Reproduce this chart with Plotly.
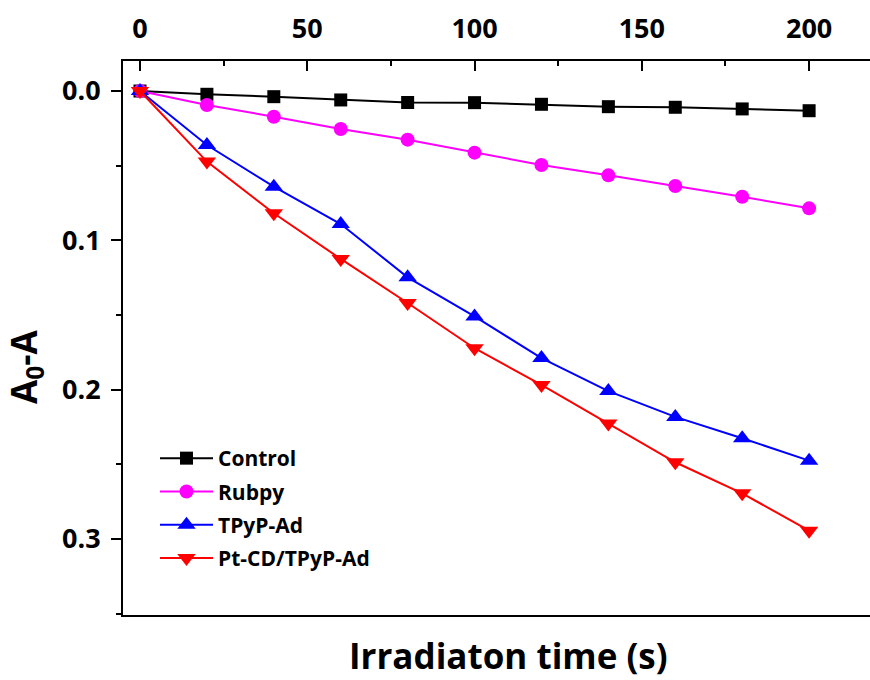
import plotly.graph_objects as go

time_s = [0, 20, 40, 60, 80, 100, 120, 140, 160, 180, 200]
control = [0.0, 0.0022, 0.0038, 0.0060, 0.0077, 0.0078, 0.0089, 0.0105, 0.0109, 0.0120, 0.0132]
rubpy = [0.0, 0.0094, 0.0172, 0.0254, 0.0326, 0.0413, 0.0496, 0.0565, 0.0636, 0.0708, 0.0786]
tpyp_ad = [0.0, 0.0362, 0.0641, 0.0891, 0.1248, 0.1510, 0.1789, 0.2010, 0.2183, 0.2326, 0.2476]
ptcd_tpyp = [0.0, 0.0473, 0.0819, 0.1125, 0.1420, 0.1723, 0.1969, 0.2227, 0.2487, 0.2695, 0.2945]

series = [
    ("Control", control, "#000000", "square", 13),
    ("Rubpy", rubpy, "#FF00FF", "circle", 14),
    ("TPyP-Ad", tpyp_ad, "#0000FF", "triangle-up", 16),
    ("Pt-CD/TPyP-Ad", ptcd_tpyp, "#FF0000", "triangle-down", 16),
]

FONT = "Open Sans"

fig = go.Figure()
for i, (name, vals, color, sym, sz) in enumerate(series):
    fig.add_trace(go.Scatter(
        x=time_s, y=vals, name=name, mode="lines+markers",
        legendgroup=f"g{i}",
        line=dict(color=color, width=2),
        marker=dict(symbol=sym, size=sz, color=color, line=dict(width=0)),
    ))

W, H = 870, 680
ml, mt, mr, mb = 123, 61, 0, 65
pw = W - ml - mr
ph = H - mt - mb

fig.update_layout(
    width=W, height=H,
    margin=dict(l=ml, r=mr, t=mt, b=mb),
    plot_bgcolor="white", paper_bgcolor="white",
    font=dict(family=FONT, color="black"),
    showlegend=True,
    legend=dict(
        x=(155 - ml) / pw, y=(H - mb - 438) / ph, xanchor="left", yanchor="top",
        bgcolor="rgba(0,0,0,0)",
        font=dict(family=FONT, size=21, color="black", weight="bold"),
        tracegroupgap=3,
        itemwidth=53,
    ),
    xaxis=dict(
        side="top", range=[-5.08, 218.2],
        showgrid=False, zeroline=False,
        showline=True, linecolor="black", linewidth=2, mirror=True,
        ticks="inside", ticklen=10, tickwidth=2, tickcolor="black",
        tick0=0, dtick=50,
        minor=dict(ticks="inside", ticklen=5, tickwidth=2, tickcolor="black", dtick=25, showgrid=False),
        tickfont=dict(family=FONT, size=27, color="black", weight="bold"),
        ticklabelstandoff=10,
    ),
    yaxis=dict(
        range=[0.351, -0.0201],
        showgrid=False, zeroline=False,
        showline=True, linecolor="black", linewidth=2, mirror=False,
        ticks="outside", ticklen=10, tickwidth=2, tickcolor="black",
        tick0=0, dtick=0.1, tickformat=".1f",
        minor=dict(ticks="outside", ticklen=5, tickwidth=2, tickcolor="black", dtick=0.05, showgrid=False),
        tickfont=dict(family=FONT, size=27, color="black", weight="bold"),
        ticklabelstandoff=5,
    ),
)

fig.add_annotation(
    text="Irradiaton time (s)", showarrow=False,
    xref="paper", yref="paper",
    x=(508 - ml) / pw, y=(H - mb - 655) / ph,
    xanchor="center", yanchor="middle",
    font=dict(family=FONT, size=35, color="black", weight="bold"),
)
fig.add_annotation(
    text="A<sub>0</sub>-A", showarrow=False, textangle=-90,
    xref="paper", yref="paper",
    x=(25 - ml) / pw, y=(H - mb - 367) / ph,
    xanchor="center", yanchor="middle",
    font=dict(family=FONT, size=35, color="black", weight="bold"),
)

fig.write_html("out.html")
